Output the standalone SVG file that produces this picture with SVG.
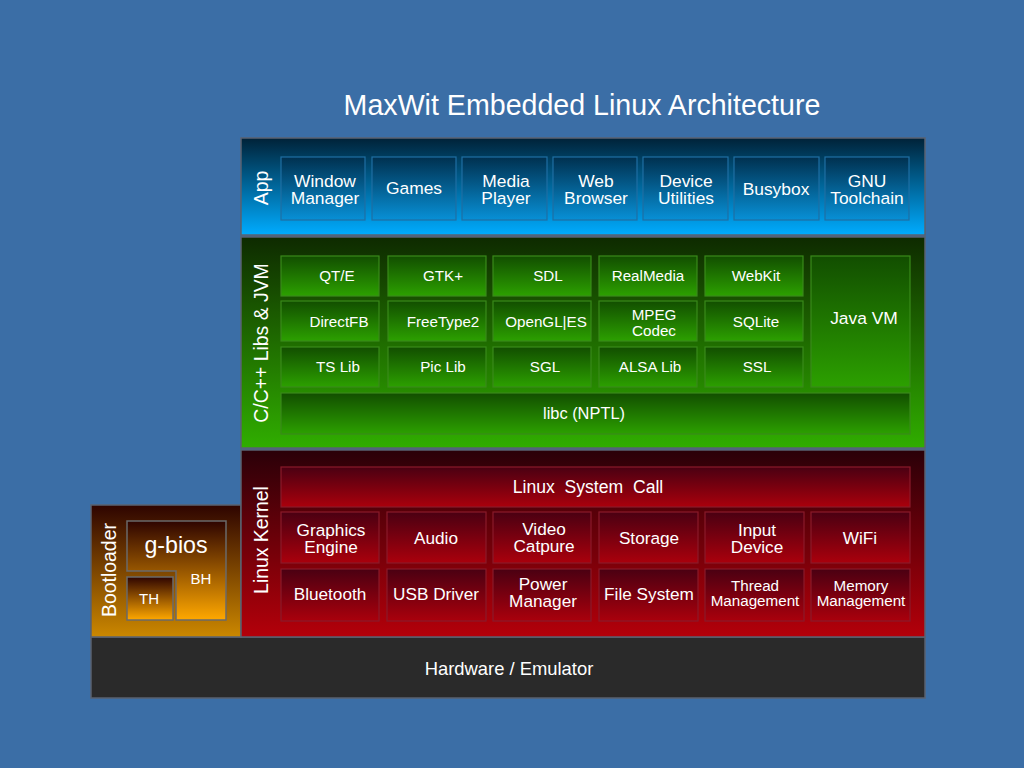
<svg xmlns="http://www.w3.org/2000/svg" width="1024" height="768" viewBox="0 0 1024 768">
<defs>
<linearGradient id="gApp" x1="0" y1="0" x2="0" y2="1"><stop offset="0" stop-color="#002238"/><stop offset="1" stop-color="#00acff"/></linearGradient>
<linearGradient id="gAppBox" x1="0" y1="0" x2="0" y2="1"><stop offset="0" stop-color="#00304f"/><stop offset="1" stop-color="#0890d6"/></linearGradient>
<linearGradient id="gLib" x1="0" y1="0" x2="0" y2="1"><stop offset="0" stop-color="#0e2a00"/><stop offset="1" stop-color="#30ae00"/></linearGradient>
<linearGradient id="gLibBox" x1="0" y1="0" x2="0" y2="1"><stop offset="0" stop-color="#124e00"/><stop offset="1" stop-color="#2ca000"/></linearGradient>
<linearGradient id="gKer" x1="0" y1="0" x2="0" y2="1"><stop offset="0" stop-color="#2a0008"/><stop offset="1" stop-color="#b4000a"/></linearGradient>
<linearGradient id="gKerBox" x1="0" y1="0" x2="0" y2="1"><stop offset="0" stop-color="#4a0012"/><stop offset="1" stop-color="#aa000c"/></linearGradient>
<linearGradient id="gBoot" x1="0" y1="0" x2="0" y2="1"><stop offset="0" stop-color="#2e0400"/><stop offset="1" stop-color="#cc8800"/></linearGradient>
<linearGradient id="gBios" x1="0" y1="0" x2="0" y2="1"><stop offset="0" stop-color="#2e0400"/><stop offset="1" stop-color="#ffa800"/></linearGradient>
<linearGradient id="gTH" x1="0" y1="0" x2="0" y2="1"><stop offset="0" stop-color="#2e0400"/><stop offset="1" stop-color="#ffa800"/></linearGradient>
<style>
.layer{stroke:#5a6270;stroke-width:1.5}
.t{font-family:"Liberation Sans",Arial,sans-serif;fill:#ffffff;text-anchor:middle}
.ab{fill:url(#gAppBox);stroke:#1f6fa3;stroke-width:1.2}
.lb{fill:url(#gLibBox);stroke:#3a8a1a;stroke-width:1.2}
.kb{fill:url(#gKerBox);stroke:#8a1a2a;stroke-width:1.2}
.a{font-size:17.4px}
.l{font-size:15.2px}
.k{font-size:17.2px}
.k2{font-size:15.2px}
.lab{font-size:19.4px}
</style>
</defs>
<rect x="0" y="0" width="1024" height="768" fill="#3b6ea6"/>
<text class="t" x="582" y="115" style="font-size:28.6px">MaxWit Embedded Linux Architecture</text>

<g id="hardware">
<rect class="layer" x="91" y="637" width="834" height="61" fill="#2a2a2a"/>
<text class="t" x="509" y="675" style="font-size:18.4px">Hardware / Emulator</text>
</g>

<g id="bootloader">
<rect class="layer" x="91" y="505" width="150" height="132" fill="url(#gBoot)"/>
<text class="t lab" transform="translate(116,570) rotate(-90)">Bootloader</text>
<g id="gbios">
<polygon points="127,521 226,521 226,620 176,620 176,571 127,571" fill="url(#gBios)" stroke="#6a6a6a" stroke-width="1.5"/>
<text class="t" x="176" y="553" style="font-size:23.2px">g-bios</text>
<text class="t" x="201" y="584" style="font-size:15px">BH</text>
</g>
<g id="th">
<rect x="127" y="577" width="46" height="43" fill="url(#gTH)" stroke="#6a6a6a" stroke-width="1.5"/>
<text class="t" x="149" y="604" style="font-size:15px">TH</text>
</g>
</g>

<g id="app-layer">
<rect class="layer" x="241" y="138" width="684" height="97" fill="url(#gApp)"/>
<text class="t lab" transform="translate(268,188) rotate(-90)">App</text>
<g id="app-wm"><rect class="ab" x="281" y="157" width="84" height="63"/><text class="t a" x="325" y="187">Window</text><text class="t a" x="325" y="204">Manager</text></g>
<g id="app-games"><rect class="ab" x="372" y="157" width="84" height="63"/><text class="t a" x="414" y="194">Games</text></g>
<g id="app-media"><rect class="ab" x="462" y="157" width="85" height="63"/><text class="t a" x="506" y="187">Media</text><text class="t a" x="506" y="204">Player</text></g>
<g id="app-web"><rect class="ab" x="553" y="157" width="84" height="63"/><text class="t a" x="596" y="187">Web</text><text class="t a" x="596" y="204">Browser</text></g>
<g id="app-dev"><rect class="ab" x="643" y="157" width="85" height="63"/><text class="t a" x="686" y="187">Device</text><text class="t a" x="686" y="204">Utilities</text></g>
<g id="app-busybox"><rect class="ab" x="734" y="157" width="85" height="63"/><text class="t a" x="776" y="195">Busybox</text></g>
<g id="app-gnu"><rect class="ab" x="825" y="157" width="84" height="63"/><text class="t a" x="867" y="187">GNU</text><text class="t a" x="867" y="204">Toolchain</text></g>
</g>

<g id="lib-layer">
<rect class="layer" x="241" y="237" width="684" height="211" fill="url(#gLib)"/>
<text class="t lab" transform="translate(268,343) rotate(-90)">C/C++ Libs &amp; JVM</text>
<g id="lib-qte"><rect class="lb" x="281" y="256" width="98" height="40"/><text class="t l" x="337" y="281">QT/E</text></g>
<g id="lib-gtk"><rect class="lb" x="388" y="256" width="98" height="40"/><text class="t l" x="443" y="281">GTK+</text></g>
<g id="lib-sdl"><rect class="lb" x="493" y="256" width="98" height="40"/><text class="t l" x="548" y="281">SDL</text></g>
<g id="lib-realmedia"><rect class="lb" x="599" y="256" width="98" height="40"/><text class="t l" x="648" y="281">RealMedia</text></g>
<g id="lib-webkit"><rect class="lb" x="705" y="256" width="98" height="40"/><text class="t l" x="756" y="281">WebKit</text></g>
<g id="lib-directfb"><rect class="lb" x="281" y="301" width="98" height="40"/><text class="t l" x="339" y="327">DirectFB</text></g>
<g id="lib-freetype"><rect class="lb" x="388" y="301" width="98" height="40"/><text class="t l" x="443" y="327">FreeType2</text></g>
<g id="lib-opengl"><rect class="lb" x="493" y="301" width="98" height="40"/><text class="t l" x="546" y="327">OpenGL|ES</text></g>
<g id="lib-mpeg"><rect class="lb" x="599" y="301" width="98" height="40"/><text class="t l" x="654" y="320">MPEG</text><text class="t l" x="654" y="336">Codec</text></g>
<g id="lib-sqlite"><rect class="lb" x="705" y="301" width="98" height="40"/><text class="t l" x="756" y="327">SQLite</text></g>
<g id="lib-tslib"><rect class="lb" x="281" y="347" width="98" height="40"/><text class="t l" x="338" y="372">TS Lib</text></g>
<g id="lib-piclib"><rect class="lb" x="388" y="347" width="98" height="40"/><text class="t l" x="443" y="372">Pic Lib</text></g>
<g id="lib-sgl"><rect class="lb" x="493" y="347" width="98" height="40"/><text class="t l" x="545" y="372">SGL</text></g>
<g id="lib-alsa"><rect class="lb" x="599" y="347" width="98" height="40"/><text class="t l" x="650" y="372">ALSA Lib</text></g>
<g id="lib-ssl"><rect class="lb" x="705" y="347" width="98" height="40"/><text class="t l" x="757" y="372">SSL</text></g>
<g id="lib-jvm"><rect class="lb" x="811" y="256" width="99" height="131"/><text class="t" x="864" y="324" style="font-size:17.4px">Java VM</text></g>
<g id="lib-libc"><rect class="lb" x="281" y="393" width="629" height="41"/><text class="t" x="584" y="419" style="font-size:16.4px">libc (NPTL)</text></g>
</g>

<g id="kernel-layer">
<rect class="layer" x="241" y="450" width="684" height="187" fill="url(#gKer)"/>
<text class="t lab" transform="translate(268,540) rotate(-90)">Linux Kernel</text>
<g id="k-syscall"><rect class="kb" x="281" y="467" width="629" height="40"/><text class="t" x="588" y="493" style="font-size:17.6px;white-space:pre">Linux  System  Call</text></g>
<g id="k-graphics"><rect class="kb" x="281" y="512" width="98" height="51"/><text class="t k" x="331" y="536">Graphics</text><text class="t k" x="331" y="553">Engine</text></g>
<g id="k-audio"><rect class="kb" x="387" y="512" width="99" height="51"/><text class="t k" x="436" y="544">Audio</text></g>
<g id="k-video"><rect class="kb" x="493" y="512" width="98" height="51"/><text class="t k" x="544" y="535">Video</text><text class="t k" x="544" y="552">Catpure</text></g>
<g id="k-storage"><rect class="kb" x="599" y="512" width="99" height="51"/><text class="t k" x="649" y="544">Storage</text></g>
<g id="k-input"><rect class="kb" x="705" y="512" width="99" height="51"/><text class="t k" x="757" y="536">Input</text><text class="t k" x="757" y="553">Device</text></g>
<g id="k-wifi"><rect class="kb" x="811" y="512" width="99" height="51"/><text class="t k" x="860" y="544">WiFi</text></g>
<g id="k-bt"><rect class="kb" x="281" y="569" width="98" height="52"/><text class="t k" x="330" y="600">Bluetooth</text></g>
<g id="k-usb"><rect class="kb" x="387" y="569" width="99" height="52"/><text class="t k" x="436" y="600">USB Driver</text></g>
<g id="k-power"><rect class="kb" x="493" y="569" width="98" height="52"/><text class="t k" x="543" y="590">Power</text><text class="t k" x="543" y="607">Manager</text></g>
<g id="k-fs"><rect class="kb" x="599" y="569" width="99" height="52"/><text class="t k" x="649" y="600">File System</text></g>
<g id="k-thread"><rect class="kb" x="705" y="569" width="99" height="52"/><text class="t k2" x="755" y="591">Thread</text><text class="t k2" x="755" y="606">Management</text></g>
<g id="k-mem"><rect class="kb" x="811" y="569" width="99" height="52"/><text class="t k2" x="861" y="591">Memory</text><text class="t k2" x="861" y="606">Management</text></g>
</g>

<g id="connectors"></g>
</svg>
